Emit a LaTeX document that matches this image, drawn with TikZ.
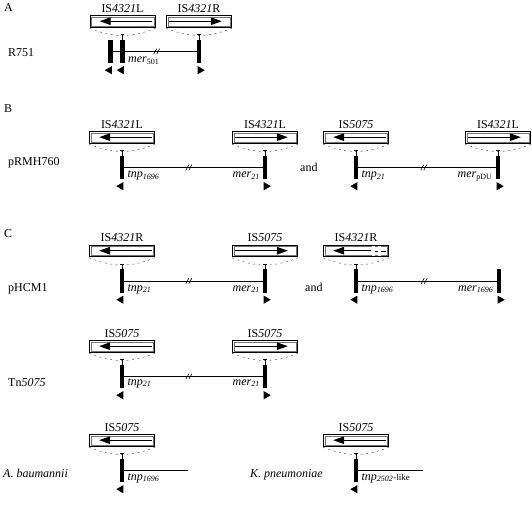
\documentclass[tikz,border=0pt]{standalone}
\usepackage{fontspec}
\setmainfont{Liberation Serif}
\usetikzlibrary{positioning}
\usetikzlibrary{arrows.meta}
\usetikzlibrary{shapes.geometric}

\begin{document}
\begin{tikzpicture}[x=1pt, y=1pt, font=\fontsize{12}{14}\selectfont,
  isbox/.style={draw, line width=0.7pt, minimum width=65pt, minimum height=11.5pt, inner sep=0pt},
  isinner/.style={black!55, line width=0.35pt},
  islabel/.style={inner sep=1pt},
  genebar/.style={fill=black, minimum width=4.5pt, minimum height=23pt, inner sep=0pt},
  ltri/.style={regular polygon, regular polygon sides=3, shape border rotate=90, fill=black, inner sep=0pt, minimum size=9.5pt},
  rtri/.style={ltri, shape border rotate=-90},
  genelabel/.style={inner sep=0pt},
  dnaline/.style={line width=0.8pt},
  isarrow/.style={-{Triangle[length=11pt,width=7.5pt]}, line width=1.2pt},
  flank/.style={black!65, line width=0.5pt, dash pattern=on 2pt off 3.5pt},
  irmark/.style={-{Bar[width=3.5pt]}, line width=0.5pt},
  brk/.style={minimum size=8pt, inner sep=0pt, path picture={
      \draw[line width=0.6pt] ([shift={(-3.5pt,-2.8pt)}]path picture bounding box.center) -- ++(3pt,5.6pt)
                              ([shift={(-0.5pt,-2.8pt)}]path picture bounding box.center) -- ++(3pt,5.6pt);}}]

\useasboundingbox (0,0) rectangle (532,-526);

% panel letters and names
\node[anchor=base west, inner sep=0pt] (pA) at (4,-12) {A};
\node[anchor=base west, inner sep=0pt] (pB) at (4,-113) {B};
\node[anchor=base west, inner sep=0pt] (pC) at (4,-238) {C};
\node[anchor=base west, inner sep=0pt] (nR751) at (8,-57) {R751};
\node[anchor=base west, inner sep=0pt] (nRMH) at (8,-166) {pRMH760};
\node[anchor=base west, inner sep=0pt] (nHCM) at (8,-291) {pHCM1};
\node[anchor=base west, inner sep=0pt] (nTn) at (8,-386) {Tn\textit{5075}};
\node[anchor=base west, inner sep=0pt] (nAb) at (3,-477) {\textit{A. baumannii}};
\node[anchor=base east, inner sep=0pt] (nKp) at (323,-477) {\textit{K. pneumoniae}};
\node[anchor=base west, inner sep=0pt] (andB) at (300,-172) {and};
\node[anchor=base west, inner sep=0pt] (andC) at (305,-291) {and};

% A: R751
\node[genebar] (rA1) at (110.5,-51.5) {};
\node[genebar] (rA2) at (122.5,-51.5) {};
\node[genebar] (rA3) at (199,-51.5) {};
\node[isbox, above=12.5pt of rA2] (isA1) {};
\node[isbox, above=12.5pt of rA3] (isA2) {};
\node[islabel, above=1.5pt of isA1] (lA1) {IS\textit{4321}L};
\node[islabel, above=1.5pt of isA2] (lA2) {IS\textit{4321}R};
\node[ltri, below=7pt of rA1.south, anchor=center, xshift=-1pt] (tA1) {};
\node[ltri, below=7pt of rA2.south, anchor=center, xshift=-1pt] (tA2) {};
\node[rtri, below=7pt of rA3.south, anchor=center, xshift=1pt] (tA3) {};
\node[genelabel, anchor=base west] (gA1) at ([shift={(3pt,-11pt)}]rA2.east) {\textit{mer}\textsubscript{501}};
\draw[dnaline] (rA1) -- (rA2);
\draw[dnaline] (rA2) -- node[brk, pos=.45] {} (rA3);

% B: pRMH760
\node[genebar] (rB1) at (122,-167.5) {};
\node[genebar] (rB2) at (265,-167.5) {};
\node[genebar] (rB3) at (356,-167.5) {};
\node[genebar] (rB4) at (498,-167.5) {};
\node[isbox, above=12.5pt of rB1] (isB1) {};
\node[isbox, above=12.5pt of rB2] (isB2) {};
\node[isbox, above=12.5pt of rB3] (isB3) {};
\node[isbox, above=12.5pt of rB4] (isB4) {};
\node[islabel, above=1.5pt of isB1] (lB1) {IS\textit{4321}L};
\node[islabel, above=1.5pt of isB2] (lB2) {IS\textit{4321}L};
\node[islabel, above=1.5pt of isB3] (lB3) {IS\textit{5075}};
\node[islabel, above=1.5pt of isB4] (lB4) {IS\textit{4321}L};
\node[ltri, below=7pt of rB1.south, anchor=center, xshift=-1pt] (tB1) {};
\node[rtri, below=7pt of rB2.south, anchor=center, xshift=1pt] (tB2) {};
\node[ltri, below=7pt of rB3.south, anchor=center, xshift=-1pt] (tB3) {};
\node[rtri, below=7pt of rB4.south, anchor=center, xshift=1pt] (tB4) {};
\node[genelabel, anchor=base west] (gB1) at ([shift={(3pt,-10.5pt)}]rB1.east) {\textit{tnp}\textsubscript{\textit{1696}}};
\node[genelabel, anchor=base east] (gB2) at ([shift={(-2.5pt,-10.5pt)}]rB2.west) {\textit{mer}\textsubscript{\textit{21}}};
\node[genelabel, anchor=base west] (gB3) at ([shift={(3pt,-10.5pt)}]rB3.east) {\textit{tnp}\textsubscript{\textit{21}}};
\node[genelabel, anchor=base east] (gB4) at ([shift={(-3pt,-10pt)}]rB4.west) {\textit{mer}\textsubscript{pDU}};
\draw[dnaline] (rB1) -- node[brk, pos=.47] {} (rB2);
\draw[dnaline] (rB3) -- node[brk, pos=.48] {} (rB4);

% C: pHCM1
\node[genebar] (rC1) at (122,-281) {};
\node[genebar] (rC2) at (265,-281) {};
\node[genebar] (rC3) at (356,-281) {};
\node[genebar] (rC4) at (499,-281) {};
\node[isbox, above=12.5pt of rC1] (isC1) {};
\node[isbox, above=12.5pt of rC2] (isC2) {};
\node[isbox, above=12.5pt of rC3] (isC3) {};
\node[islabel, above=1.5pt of isC1] (lC1) {IS\textit{4321}R};
\node[islabel, above=1.5pt of isC2] (lC2) {IS\textit{5075}};
\node[islabel, above=1.5pt of isC3] (lC3) {IS\textit{4321}R};
\node[ltri, below=7pt of rC1.south, anchor=center, xshift=-1pt] (tC1) {};
\node[rtri, below=7pt of rC2.south, anchor=center, xshift=1pt] (tC2) {};
\node[ltri, below=7pt of rC3.south, anchor=center, xshift=-1pt] (tC3) {};
\node[rtri, below=7pt of rC4.south, anchor=center, xshift=1pt] (tC4) {};
\node[genelabel, anchor=base west] (gC1) at ([shift={(3pt,-10pt)}]rC1.east) {\textit{tnp}\textsubscript{\textit{21}}};
\node[genelabel, anchor=base east] (gC2) at ([shift={(-2.5pt,-10pt)}]rC2.west) {\textit{mer}\textsubscript{\textit{21}}};
\node[genelabel, anchor=base west] (gC3) at ([shift={(3pt,-10pt)}]rC3.east) {\textit{tnp}\textsubscript{\textit{1696}}};
\node[genelabel, anchor=base east] (gC4) at ([shift={(-3pt,-10pt)}]rC4.west) {\textit{mer}\textsubscript{\textit{1696}}};
\draw[dnaline] (rC1) -- node[brk, pos=.47] {} (rC2);
\draw[dnaline] (rC3) -- node[brk, pos=.48] {} (rC4);

% Tn5075
\node[genebar] (rT1) at (122,-376.5) {};
\node[genebar] (rT2) at (265,-376.5) {};
\node[isbox, above=12.5pt of rT1] (isT1) {};
\node[isbox, above=12.5pt of rT2] (isT2) {};
\node[islabel, above=1.5pt of isT1] (lT1) {IS\textit{5075}};
\node[islabel, above=1.5pt of isT2] (lT2) {IS\textit{5075}};
\node[ltri, below=7pt of rT1.south, anchor=center, xshift=-1pt] (tT1) {};
\node[rtri, below=7pt of rT2.south, anchor=center, xshift=1pt] (tT2) {};
\node[genelabel, anchor=base west] (gT1) at ([shift={(3pt,-8.5pt)}]rT1.east) {\textit{tnp}\textsubscript{\textit{21}}};
\node[genelabel, anchor=base east] (gT2) at ([shift={(-2.5pt,-8.5pt)}]rT2.west) {\textit{mer}\textsubscript{\textit{21}}};
\draw[dnaline] (rT1) -- node[brk, pos=.47] {} (rT2);

% A. baumannii and K. pneumoniae
\node[genebar] (rD1) at (122,-470.5) {};
\node[genebar] (rE1) at (356,-470.5) {};
\coordinate (eD) at (188,-470.5);
\coordinate (eE) at (423,-470.5);
\node[isbox, above=12.5pt of rD1] (isD1) {};
\node[isbox, above=12.5pt of rE1] (isE1) {};
\node[islabel, above=1.5pt of isD1] (lD1) {IS\textit{5075}};
\node[islabel, above=1.5pt of isE1] (lE1) {IS\textit{5075}};
\node[ltri, below=7pt of rD1.south, anchor=center, xshift=-1pt] (tD1) {};
\node[ltri, below=7pt of rE1.south, anchor=center, xshift=-1pt] (tE1) {};
\node[genelabel, anchor=base west] (gD1) at ([shift={(3pt,-9.5pt)}]rD1.east) {\textit{tnp}\textsubscript{\textit{1696}}};
\node[genelabel, anchor=base west] (gE1) at ([shift={(3pt,-9.5pt)}]rE1.east) {\textit{tnp}\textsubscript{\textit{2502}}{\fontsize{9}{10}\selectfont -like}};
\draw[dnaline] (rD1) -- (eD);
\draw[dnaline] (rE1) -- (eE);

% inner frame of every IS box, flanks and inverted repeats
\foreach \b/\r in {isA1/rA2, isA2/rA3, isB1/rB1, isB2/rB2, isB3/rB3, isB4/rB4, isC1/rC1, isC2/rC2, isC3/rC3, isT1/rT1, isT2/rT2, isD1/rD1, isE1/rE1} {
  \draw[isinner] ([shift={(1.6pt,1.6pt)}]\b.south west) rectangle ([shift={(-1.6pt,-1.6pt)}]\b.north east);
  \draw[flank] ([yshift=-1pt]\b.south west) to[bend right=22] ([yshift=-1pt]\b.south east);
  \draw[irmark] (\r.north) -- ++(0,5.5pt);
}

% arrows in the IS boxes
\foreach \b in {isA1, isB1, isB3, isC1, isT1, isD1, isE1}
  \draw[isarrow] ([xshift=-3pt]\b.east) -- ([xshift=10pt]\b.west);
\foreach \b in {isA2, isB2, isB4, isC2, isT2}
  \draw[isarrow] ([xshift=3pt]\b.west) -- ([xshift=-10pt]\b.east);
% truncated copy
\draw[isarrow] ([xshift=15pt]isC3.center) -- ([xshift=10pt]isC3.west);
\fill[white] ([xshift=15.5pt, yshift=1pt]isC3.south) rectangle ([xshift=18.5pt, yshift=-1pt]isC3.north);
\fill[white] ([xshift=21.5pt, yshift=1pt]isC3.south) rectangle ([xshift=24.5pt, yshift=-1pt]isC3.north);
\draw[double, double distance=1pt, line width=0.4pt] ([xshift=18.5pt]isC3.center) -- ++(3pt,0)
     ([xshift=24.5pt]isC3.center) -- ++(5.5pt,0);

\end{tikzpicture}
\end{document}
